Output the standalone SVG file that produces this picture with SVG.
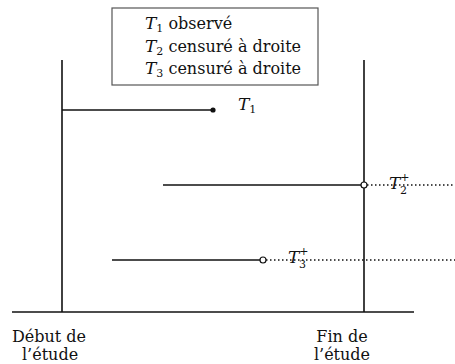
<svg xmlns="http://www.w3.org/2000/svg" width="455" height="364" viewBox="0 0 455 364">
<style>
text{font-family:"DejaVu Serif","Liberation Serif",serif;font-size:16px;fill:#111}
.it{font-style:italic;font-size:17px}
.sub{font-size:11px}
.ln{stroke:#111;stroke-width:1.6;fill:none}
.dot{stroke:#111;stroke-width:1.3;stroke-dasharray:1.5 2.5;fill:none}
.oc{fill:#fff;stroke:#111;stroke-width:1.2}
</style>
<rect width="455" height="364" fill="#fff"/>
<g id="legend">
<rect x="112" y="8" width="206" height="77" fill="#fff" stroke="#555" stroke-width="1.2"/>
<text x="145" y="29"><tspan class="it">T</tspan><tspan class="sub" dy="3">1</tspan><tspan dy="-3"> observé</tspan></text>
<text x="145" y="52"><tspan class="it">T</tspan><tspan class="sub" dy="3">2</tspan><tspan dy="-3"> censuré à droite</tspan></text>
<text x="145" y="74"><tspan class="it">T</tspan><tspan class="sub" dy="3">3</tspan><tspan dy="-3"> censuré à droite</tspan></text>
</g>
<g id="axes">
<line class="ln" x1="12" y1="312" x2="414" y2="312"/>
<line class="ln" x1="62" y1="60" x2="62" y2="312"/>
<line class="ln" x1="364" y1="60" x2="364" y2="312"/>
</g>
<g id="connectors">
<line class="ln" x1="62" y1="110" x2="213" y2="110"/>
<line class="ln" x1="163" y1="185" x2="361" y2="185"/>
<line class="dot" x1="367" y1="185" x2="455" y2="185"/>
<line class="ln" x1="112" y1="260" x2="260" y2="260"/>
<line class="dot" x1="266" y1="260" x2="455" y2="260"/>
</g>
<g id="T1">
<circle cx="213" cy="110" r="2.6" fill="#111"/>
<text x="238" y="110"><tspan class="it">T</tspan><tspan class="sub" dy="3">1</tspan></text>
</g>
<g id="T2">
<circle class="oc" cx="364" cy="185" r="3"/>
<text x="389" y="189"><tspan class="it">T</tspan><tspan class="sub" dy="-8">+</tspan><tspan class="sub" x="400" y="194">2</tspan></text>
</g>
<g id="T3">
<circle class="oc" cx="263" cy="260" r="3"/>
<text x="288" y="263"><tspan class="it">T</tspan><tspan class="sub" dy="-8">+</tspan><tspan class="sub" x="299" y="268">3</tspan></text>
</g>
<g id="labels">
<text><tspan x="12" y="342">Début de</tspan><tspan x="22" y="360">l’étude</tspan></text>
<text text-anchor="middle"><tspan x="342" y="342">Fin de</tspan><tspan x="342" y="360">l’étude</tspan></text>
</g>
</svg>
